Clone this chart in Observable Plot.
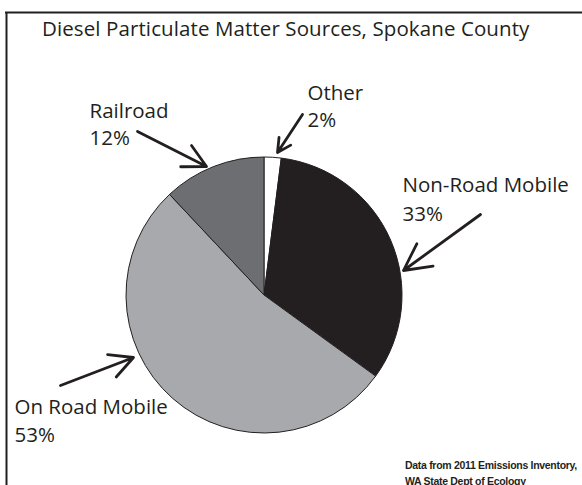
<!DOCTYPE html>
<html>
<head>
<meta charset="utf-8">
<script src="https://cdn.jsdelivr.net/npm/d3@7"></script>
<script src="https://cdn.jsdelivr.net/npm/@observablehq/plot@0.6"></script>
<style>
  html, body { margin: 0; padding: 0; background: #fff; overflow: hidden; width: 582px; height: 485px; }
  #wrap { position: relative; width: 582px; height: 485px; overflow: hidden; font-family: "Open Sans", sans-serif; color: #231f20; }
  #title { position: absolute; left: 42px; top: 14px; font-size: 20.5px; white-space: nowrap; letter-spacing: 0.1px; }
  #caption { position: absolute; left: 405px; top: 457px; font-family: "Liberation Sans Narrow", "Liberation Sans", sans-serif; font-weight: bold; font-size: 10.5px; line-height: 16px; white-space: nowrap; letter-spacing: -0.3px; }
  #chart { position: absolute; left: 0; top: 0; width: 582px; height: 485px; }
  #chart svg { display: block; }
</style>
</head>
<body>
<div id="wrap">
  <div id="chart"></div>
  <div id="title">Diesel Particulate Matter Sources, Spokane County</div>
  <div id="caption">Data from 2011 Emissions Inventory,<br>WA State Dept of Ecology</div>
</div>
<script>
// ---- data ----
const categories = ["Other", "Non-Road Mobile", "On Road Mobile", "Railroad"];
const shares = [2, 33, 53, 12];
const sliceColors = ["#ffffff", "#231f20", "#a7a9ac", "#6d6e71"];

// ---- layout (pixel positions, separate from data) ----
const W = 582, H = 485;
const FRAME = {left: 6, top: 12};
const PIE = {cx: 264, cy: 295, r: 138};
const namePos = [
  {x: 307, y: 85},   // Other
  {x: 402, y: 177},  // Non-Road Mobile
  {x: 14, y: 399},   // On Road Mobile
  {x: 89, y: 103}    // Railroad
];
const pctPos = [
  {x: 307, y: 112},
  {x: 402, y: 206},
  {x: 14, y: 427},
  {x: 89, y: 130}
];
const arrowPos = [
  {x1: 302, y1: 114, x2: 277, y2: 152},
  {x1: 480, y1: 214, x2: 403, y2: 270},
  {x1: 60, y1: 385, x2: 133, y2: 357},
  {x1: 137, y1: 131, x2: 206, y2: 166}
];

const slices = categories.map((name, i) => ({name, share: shares[i]}));
const arcs = d3.pie().sort(null).value(d => d.share)(slices);
const nameLabels = slices.map((d, i) => ({text: d.name, ...namePos[i]}));
const pctLabels = slices.map((d, i) => ({text: `${d.share}%`, ...pctPos[i]}));
const arrows = slices.map((d, i) => ({name: d.name, ...arrowPos[i]}));

const textStyle = {
  x: "x", y: "y", text: "text",
  textAnchor: "start", lineAnchor: "top",
  fontSize: 20.5, fontFamily: "Open Sans", fill: "#231f20"
};

const chart = Plot.plot({
  width: W,
  height: H,
  margin: 0,
  x: {domain: [0, W], range: [0, W], axis: null},
  y: {domain: [0, H], range: [0, H], axis: null},
  color: {domain: categories, range: sliceColors},
  style: {background: "transparent"},
  marks: [
    // outer frame (top and left edges only, as in the reference)
    Plot.ruleY([FRAME.top], {x1: FRAME.left - 1, x2: W, stroke: "#231f20", strokeWidth: 2}),
    Plot.ruleX([FRAME.left], {y1: FRAME.top, y2: H, stroke: "#231f20", strokeWidth: 2}),
    Plot.dot(slices, {
      x: () => PIE.cx,
      y: () => PIE.cy,
      fill: "name",
      render: (index, scales, values) => {
        const g = d3.create("svg:g");
        const r = scales.x(PIE.cx + PIE.r) - scales.x(PIE.cx);
        const arc = d3.arc().innerRadius(0).outerRadius(r);
        for (const i of index) {
          g.append("path")
            .attr("d", arc(arcs[i]))
            .attr("transform", `translate(${values.x[i]},${values.y[i]})`)
            .attr("fill", values.fill[i])
            .attr("stroke", "#231f20")
            .attr("stroke-width", 1)
            .attr("stroke-linejoin", "round");
        }
        return g.node();
      }
    }),
    Plot.arrow(arrows, {
      x1: "x1", y1: "y1", x2: "x2", y2: "y2",
      stroke: "#231f20", strokeWidth: 2.8,
      headLength: 16, headAngle: 55, bend: 0
    }),
    Plot.text(nameLabels, textStyle),
    Plot.text(pctLabels, textStyle)
  ]
});
document.getElementById("chart").appendChild(chart);
</script>
</body>
</html>
